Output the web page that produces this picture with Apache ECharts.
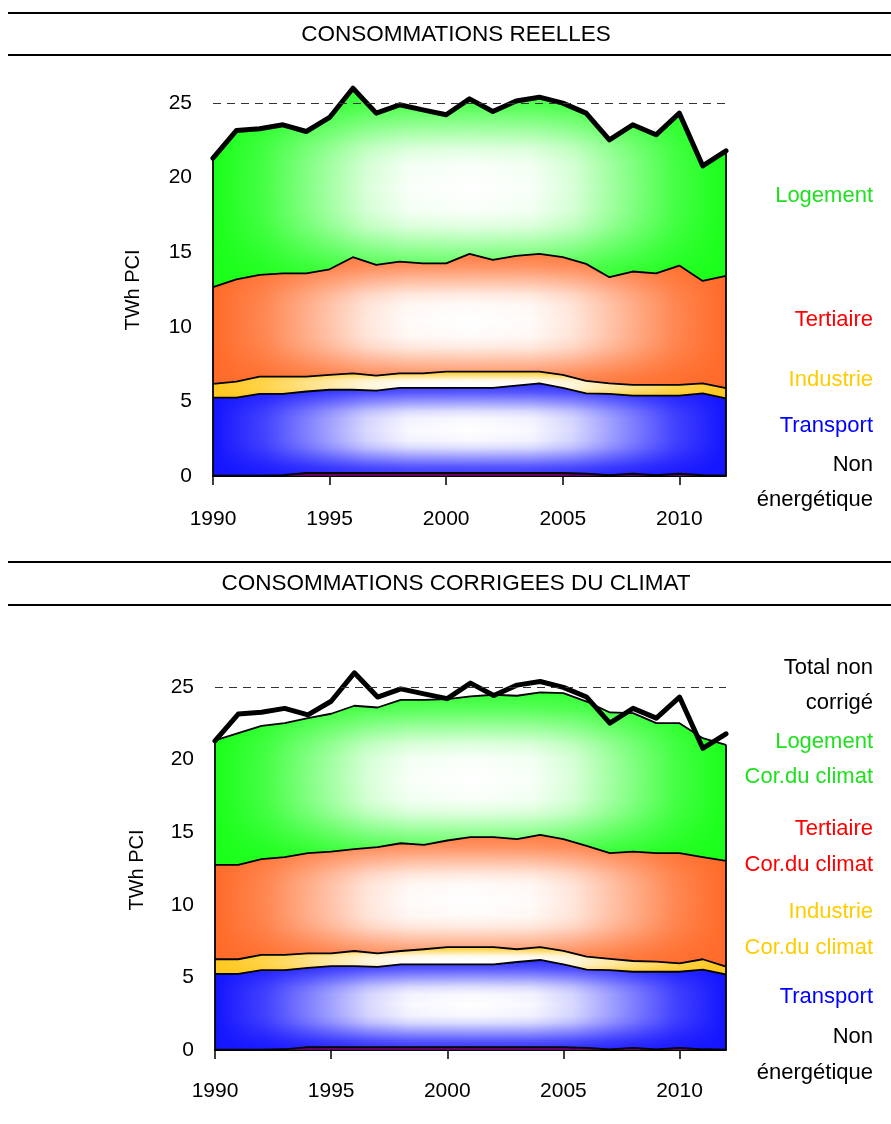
<!DOCTYPE html>
<html><head><meta charset="utf-8">
<script src="https://cdn.jsdelivr.net/npm/echarts@6/dist/echarts.min.js"></script>
<style>html,body{margin:0;padding:0;background:#fff}#c{width:891px;height:1124px}</style>
</head><body><div id="c"></div>
<script>
// ---- data ----
const years = ['1990','1991','1992','1993','1994','1995','1996','1997','1998','1999','2000','2001','2002','2003','2004','2005','2006','2007','2008','2009','2010','2011','2012'];
const xTickYears = ['1990','1995','2000','2005','2010'];
const yTickValues = [0, 5, 10, 15, 20, 25];
const referenceLevel = 25;

// Consommations réelles (TWh PCI)
const nonEnergetique = [0.03,0.03,0.03,0.05,0.2,0.2,0.2,0.2,0.2,0.2,0.2,0.2,0.2,0.2,0.2,0.2,0.15,0.05,0.15,0.05,0.15,0.05,0.02];
const transport = [5.22,5.22,5.47,5.45,5.46,5.58,5.58,5.52,5.7,5.7,5.7,5.7,5.7,5.86,6.0,5.7,5.38,5.45,5.24,5.34,5.24,5.48,5.18];
const industrie = [0.92,1.07,1.16,1.16,1.0,0.99,1.1,1.0,0.98,0.98,1.09,1.09,1.09,0.93,0.79,0.87,0.84,0.71,0.71,0.71,0.71,0.68,0.68];
const tertiaire = [6.48,6.86,6.81,6.92,6.92,7.08,7.78,7.42,7.48,7.37,7.26,7.89,7.49,7.76,7.89,7.89,7.84,7.11,7.6,7.48,8.0,6.86,7.52];
const logement = [8.64,9.96,9.79,9.95,9.5,10.17,11.32,10.17,10.51,10.28,9.95,10.39,9.94,10.38,10.5,10.32,10.1,9.2,9.83,9.28,10.21,7.71,8.38];
const totalNonCorrige = [21.29,23.14,23.26,23.53,23.08,24.02,25.98,24.31,24.87,24.53,24.2,25.27,24.42,25.13,25.38,24.98,24.31,22.52,23.53,22.86,24.31,20.78,21.78];

// Consommations corrigées du climat
const industrieCor = [1.0,1.0,1.05,1.05,1.0,0.88,1.04,0.94,0.92,1.04,1.18,1.18,1.18,0.88,0.88,0.92,0.9,0.77,0.74,0.7,0.58,0.72,0.54];
const tertiaireCor = [6.5,6.5,6.59,6.73,6.9,7.01,7.01,7.31,7.42,7.19,7.35,7.58,7.58,7.58,7.74,7.7,7.63,7.29,7.54,7.47,7.59,7.03,7.29];
const logementCor = [8.57,9.08,9.19,9.23,9.3,9.49,9.88,9.62,9.88,9.99,9.74,9.69,9.81,9.88,9.81,10.06,9.94,9.69,9.53,8.95,8.95,8.2,7.99];

// ---- styles ----
const FONT = 'Liberation Sans';
const COL = {
  non: [102, 0, 102],
  transport: [20, 20, 255],
  industrie: [255, 200, 30],
  tertiaire: [255, 106, 40],
  logement: [25, 255, 25]
};
const rgba = (c, a) => 'rgba(' + c[0] + ',' + c[1] + ',' + c[2] + ',' + a + ')';
const mixW = (c, w) => 'rgb(' + c.map(function (v) { return Math.round(v + (255 - v) * w); }).join(',') + ')';
// white-blend profile from edge (0) to centre (0.5)
const PROFILE = [[0, 0], [0.1, 0.2], [0.2, 0.52], [0.3, 0.84], [0.38, 0.97], [0.5, 1]];
function hGrad(c) {
  const stops = [];
  PROFILE.forEach(function (p) { stops.push({offset: p[0], color: mixW(c, p[1])}); });
  PROFILE.slice(0, -1).reverse().forEach(function (p) { stops.push({offset: 1 - p[0], color: mixW(c, p[1])}); });
  return {type: 'linear', x: 0, y: 0, x2: 1, y2: 0, colorStops: stops};
}
function vGrad(c) {
  const a = function (p) { return +(0.88 * (1 - p[1])).toFixed(3); };
  const stops = [];
  PROFILE.forEach(function (p) { stops.push({offset: p[0], color: rgba(c, a(p))}); });
  PROFILE.slice(0, -1).reverse().forEach(function (p) { stops.push({offset: 1 - p[0], color: rgba(c, a(p))}); });
  return {type: 'linear', x: 0, y: 0, x2: 0, y2: 1, colorStops: stops};
}

function bandSeries(g, bands) {
  const out = [];
  const n = years.length;
  bands.forEach(function (b) {
    const solid = b.solid;
    out.push({
      type: 'line', xAxisIndex: g, yAxisIndex: g, stack: 'fill' + g, data: b.data,
      symbol: 'none', silent: true, z: 1,
      lineStyle: {width: 0, opacity: 0},
      areaStyle: {color: solid ? rgba(b.color, 1) : hGrad(b.color), opacity: 1}
    });
    const ov = {
      type: 'line', xAxisIndex: g, yAxisIndex: g, stack: 'ov' + g, data: b.data,
      symbol: 'none', silent: true, z: 2,
      lineStyle: {width: 0, opacity: 0}
    };
    if (!solid) ov.areaStyle = {color: vGrad(b.color), opacity: 1};
    out.push(ov);
  });
  bands.forEach(function (b, k) {
    const s = {
      type: 'line', xAxisIndex: g, yAxisIndex: g, stack: 'bd' + g, data: b.data,
      symbol: 'none', silent: true, z: 3,
      lineStyle: {color: '#000', width: 1.8, join: 'round'}
    };
    if (k === bands.length - 1) {
      let top0 = 0, topN = 0;
      bands.forEach(function (bb) { top0 += bb.data[0]; topN += bb.data[n - 1]; });
      s.markLine = {
        silent: true, symbol: ['none', 'none'], label: {show: false},
        lineStyle: {color: '#000', width: 1.8, type: 'solid'},
        data: [
          [{coord: [years[0], 0]}, {coord: [years[0], top0]}],
          [{coord: [years[n - 1], 0]}, {coord: [years[n - 1], topN]}]
        ]
      };
    }
    out.push(s);
  });
  out.push({
    type: 'line', xAxisIndex: g, yAxisIndex: g, data: totalNonCorrige,
    symbol: 'none', silent: true, z: 4,
    lineStyle: {color: '#000', width: 5, join: 'round', cap: 'round'},
    markLine: {
      silent: true, symbol: ['none', 'none'], label: {show: false},
      lineStyle: {color: '#333', width: 1, type: [8, 6]},
      data: [{yAxis: referenceLevel}]
    }
  });
  return out;
}

const isTick = function (i) { return xTickYears.indexOf(years[i]) >= 0; };
function xAxisDef(g, margin) {
  return {
    type: 'category', gridIndex: g, data: years, boundaryGap: false,
    axisLine: {show: true, lineStyle: {color: '#000', width: 2}},
    axisTick: {show: true, interval: isTick, length: 9, lineStyle: {color: '#000', width: 1.5}},
    axisLabel: {interval: isTick, margin: margin, color: '#000', fontSize: 21, fontFamily: FONT},
    splitLine: {show: false}
  };
}
function yAxisDef(g) {
  return {
    type: 'value', gridIndex: g, min: 0, max: 27, interval: 5,
    axisLine: {show: false}, axisTick: {show: false}, splitLine: {show: false},
    axisLabel: {margin: 21, color: '#000', fontSize: 21, fontFamily: FONT,
      formatter: function (v) { return yTickValues.indexOf(v) >= 0 ? String(v) : ''; }}
  };
}

function txt(x, y, text, color, size, align) {
  return {type: 'text', x: x, y: y, silent: true, style: {
    text: text, fill: color, font: (size || 22) + 'px "' + FONT + '"',
    textAlign: align || 'right', textVerticalAlign: 'middle'}};
}
function hline(y) {
  return {type: 'line', silent: true, shape: {x1: 8, y1: y, x2: 891, y2: y}, style: {stroke: '#000', lineWidth: 2}};
}
const GREEN = '#1ee01e', RED = '#ff0000', YEL = '#ffcc00', BLUE = '#0000ff', BLK = '#000';
const RX = 873;

const graphics = [
  hline(13), hline(55),
  txt(456, 35, 'CONSOMMATIONS REELLES', BLK, 22.5, 'center'),
  hline(562), hline(605),
  txt(456, 584, 'CONSOMMATIONS CORRIGEES DU CLIMAT', BLK, 22.5, 'center'),
  {type: 'text', x: 133, y: 290, rotation: Math.PI / 2, silent: true,
   style: {text: 'TWh PCI', fill: BLK, font: '20px "' + FONT + '"', textAlign: 'center', textVerticalAlign: 'middle'}},
  {type: 'text', x: 137, y: 870, rotation: Math.PI / 2, silent: true,
   style: {text: 'TWh PCI', fill: BLK, font: '20px "' + FONT + '"', textAlign: 'center', textVerticalAlign: 'middle'}},
  txt(RX, 196, 'Logement', GREEN),
  txt(RX, 320, 'Tertiaire', RED),
  txt(RX, 380, 'Industrie', YEL),
  txt(RX, 426, 'Transport', BLUE),
  txt(RX, 465, 'Non', BLK),
  txt(RX, 500, 'énergétique', BLK),
  txt(RX, 668, 'Total non', BLK),
  txt(RX, 703, 'corrigé', BLK),
  txt(RX, 742, 'Logement', GREEN),
  txt(RX, 777, 'Cor.du climat', GREEN),
  txt(RX, 829, 'Tertiaire', RED),
  txt(RX, 865, 'Cor.du climat', RED),
  txt(RX, 912, 'Industrie', YEL),
  txt(RX, 948, 'Cor.du climat', YEL),
  txt(RX, 997, 'Transport', BLUE),
  txt(RX, 1037, 'Non', BLK),
  txt(RX, 1073, 'énergétique', BLK)
];

const topBands = [
  {data: nonEnergetique, color: COL.non, solid: true},
  {data: transport, color: COL.transport},
  {data: industrie, color: COL.industrie},
  {data: tertiaire, color: COL.tertiaire},
  {data: logement, color: COL.logement}
];
const botBands = [
  {data: nonEnergetique, color: COL.non, solid: true},
  {data: transport, color: COL.transport},
  {data: industrieCor, color: COL.industrie},
  {data: tertiaireCor, color: COL.tertiaire},
  {data: logementCor, color: COL.logement}
];

const option = {
  animation: false,
  backgroundColor: '#fff',
  grid: [
    {left: 213, width: 513, top: 73, height: 403},
    {left: 215, width: 511, top: 658, height: 392}
  ],
  xAxis: [xAxisDef(0, 33), xAxisDef(1, 31)],
  yAxis: [yAxisDef(0), yAxisDef(1)],
  series: bandSeries(0, topBands).concat(bandSeries(1, botBands)),
  graphic: graphics
};
const chart = echarts.init(document.getElementById('c'), null, {renderer: 'canvas'});
chart.setOption(option);
</script>
</body></html>
